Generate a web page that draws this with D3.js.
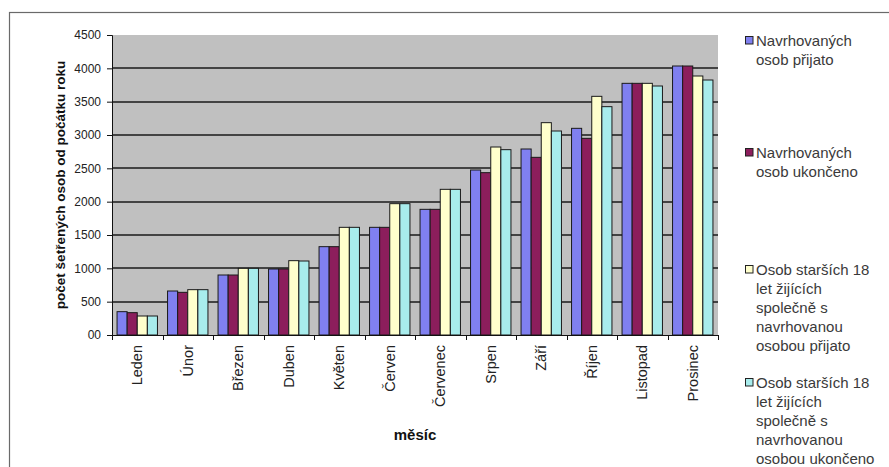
<!DOCTYPE html>
<html><head><meta charset="utf-8">
<script src="https://cdn.jsdelivr.net/npm/d3@7"></script>
<style>body{margin:0;background:#fff}svg{display:block;font-family:"Liberation Sans",Arial,sans-serif}</style>
</head><body>
<svg id="c" width="889" height="467"></svg>
<script>
const categories = ["Leden","Únor","Březen","Duben","Květen","Červen","Červenec","Srpen","Září","Říjen","Listopad","Prosinec"];
const navrhPrijato   = [350,660,900,990,1325,1615,1885,2475,2790,3100,3775,4035];
const navrhUkonceno  = [335,640,900,990,1325,1615,1885,2435,2665,2950,3775,4035];
const osobPrijato    = [285,680,1000,1115,1615,1970,2185,2820,3185,3580,3775,3885];
const osobUkonceno   = [285,680,1000,1110,1615,1970,2185,2780,3060,3425,3735,3825];
const yTicks = [0,500,1000,1500,2000,2500,3000,3500,4000,4500];
const yTickLabels = ["00","500","1000","1500","2000","2500","3000","3500","4000","4500"];
const seriesNames = [
  ["Navrhovaných","osob přijato"],
  ["Navrhovaných","osob ukončeno"],
  ["Osob starších 18","let žijících","společně s","navrhovanou","osobou přijato"],
  ["Osob starších 18","let žijících","společně s","navrhovanou","osobou ukončeno"]
];
const colors = ["#8080f0","#8c1e5c","#ffffcc","#a8ecec"];
const yTitle = "počet šetřených osob od počátku roku";
const xTitle = "měsíc";

const series = [navrhPrijato, navrhUkonceno, osobPrijato, osobUkonceno];
const svg = d3.select("#c");
const L = 112, R = 718, T = 35, B = 335;
const FF = "Liberation Sans, Arial, sans-serif";

// outer frame
svg.append("rect").attr("x",9.5).attr("y",12.5).attr("width",900).attr("height",500)
  .attr("fill","none").attr("stroke","#6a6a6a").attr("stroke-width",1.2);

const x0 = d3.scaleBand().domain(categories).range([L,R]).paddingInner(0).paddingOuter(0);
const x1 = d3.scaleBand().domain(d3.range(4)).range([0,x0.bandwidth()]).paddingInner(0).paddingOuter(0.5);
const y = d3.scaleLinear().domain([0,4500]).range([B,T]);

svg.append("rect").attr("x",L).attr("y",T).attr("width",R-L).attr("height",B-T).attr("fill","#c0c0c0");

// gridlines
svg.append("g").selectAll("line").data(yTicks.filter(v=>v>0 && v<4500)).join("line")
  .attr("x1",L).attr("x2",R).attr("y1",d=>Math.round(y(d))).attr("y2",d=>Math.round(y(d)))
  .attr("stroke","#1a1a1a").attr("stroke-width",1.4);

// bars
const g = svg.append("g");
categories.forEach((c,i)=>{
  series.forEach((s,j)=>{
    g.append("rect")
      .attr("x", x0(c)+x1(j))
      .attr("y", y(s[i]))
      .attr("width", x1.bandwidth())
      .attr("height", B - y(s[i]))
      .attr("fill", colors[j]).attr("stroke","#1a1a1a").attr("stroke-width",1);
  });
});

// y axis
const yAxis = d3.axisLeft(y).tickValues(yTicks).tickSize(5).tickPadding(6)
  .tickFormat((d,i)=>yTickLabels[i]);
const ya = svg.append("g").attr("transform",`translate(${L},0)`).call(yAxis);
ya.select(".domain").attr("stroke","#111");
ya.selectAll(".tick line").attr("stroke","#111");
ya.selectAll("text").attr("font-size",12).attr("fill","#222").attr("font-family",FF);

// x axis
const xa = svg.append("g").attr("transform",`translate(0,${B})`)
  .call(d3.axisBottom(x0).tickSize(0).tickPadding(0));
xa.select(".domain").attr("stroke","#111");
xa.selectAll(".tick text")
  .attr("font-size",14.5).attr("fill","#222").attr("font-family",FF)
  .attr("transform","rotate(-90)").attr("text-anchor","end")
  .attr("x",-10).attr("y",0).attr("dy","0.35em");
// tick marks between categories
svg.append("g").selectAll("line").data(d3.range(categories.length+1)).join("line")
  .attr("x1",d=>Math.round(L + d*x0.step())+0.5).attr("x2",d=>Math.round(L + d*x0.step())+0.5)
  .attr("y1",B).attr("y2",B+5).attr("stroke","#111");

// titles
svg.append("text").attr("transform",`translate(60,${(T+B)/2}) rotate(-90)`)
  .attr("text-anchor","middle").attr("dy","0.35em").attr("font-size",13.5).attr("font-weight","bold")
  .attr("fill","#111").text(yTitle);
svg.append("text").attr("x",(L+R)/2).attr("y",440).attr("text-anchor","middle")
  .attr("font-size",15).attr("font-weight","bold").attr("fill","#111").text(xTitle);

// legend
const legendY = [41,153,270,383];
const lg = svg.append("g");
seriesNames.forEach((lines,j)=>{
  lg.append("rect").attr("x",745.5).attr("y",legendY[j]-4.5).attr("width",7.5).attr("height",7.5)
    .attr("fill",colors[j]).attr("stroke","#222");
  const t = lg.append("text").attr("font-size",15).attr("fill","#3a3a3a").attr("font-family",FF);
  lines.forEach((ln,k)=>{
    t.append("tspan").attr("x",756).attr("y",legendY[j]+k*19).attr("dy","0.35em").text(ln);
  });
});
</script>
</body></html>
